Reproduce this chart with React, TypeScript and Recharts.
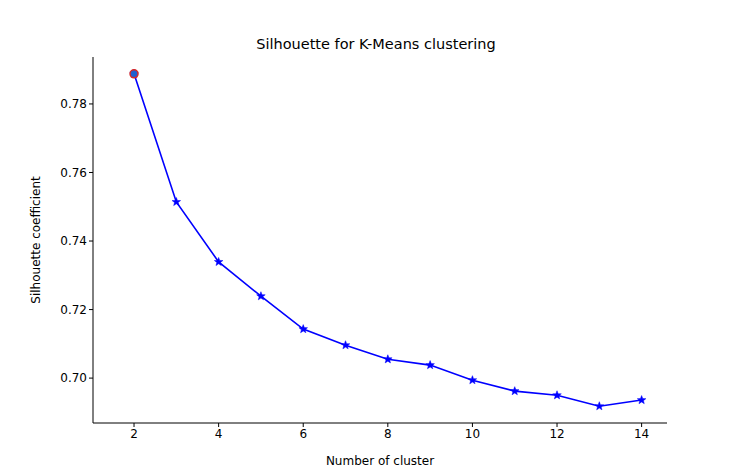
import React from "react";
import { LineChart, Line, XAxis, YAxis } from "recharts";

const clusters = [2, 3, 4, 5, 6, 7, 8, 9, 10, 11, 12, 13, 14];
const silhouette = [0.7888, 0.7514, 0.7339, 0.7239, 0.7143, 0.7096, 0.7055, 0.7038, 0.6994, 0.6962, 0.695, 0.6918, 0.6936];
const xTicks = [2, 4, 6, 8, 10, 12, 14];
const yTicks = [0.7, 0.72, 0.74, 0.76, 0.78];

const data = clusters.map((k, i) => ({ k, s: silhouette[i] }));

const font = "DejaVu Sans";
const xDomain: [number, number] = [1.03, 14.6];
const yDomain: [number, number] = [0.6869, 0.7937];

const Star = (props: any) => {
  const { cx, cy, index } = props;
  if (cx == null || cy == null) return null;
  const pts: string[] = [];
  for (let i = 0; i < 10; i++) {
    const r = i % 2 === 0 ? 4.5 : 1.9;
    const a = -Math.PI / 2 + (i * Math.PI) / 5;
    pts.push(`${cx + r * Math.cos(a)},${cy + r * Math.sin(a)}`);
  }
  return (
    <g key={index}>
      <polygon points={pts.join(" ")} fill="#0000ff" stroke="#0000ff" strokeWidth={0.5} />
      {index === 0 && <circle cx={cx} cy={cy} r={4} fill="#1f5fd0" stroke="#d62728" strokeWidth={1.5} />}
    </g>
  );
};

export default function App() {
  return (
    <div style={{ position: "absolute", left: 0, top: 0, background: "#fff" }}>
      <LineChart width={733} height={475} data={data} margin={{ top: 57, right: 66, bottom: 0, left: 0 }}>
        <text x={376} y={49} textAnchor="middle" fontFamily={font} fontSize={14.5}>
          Silhouette for K-Means clustering
        </text>
        <XAxis
          dataKey="k"
          type="number"
          domain={xDomain}
          ticks={xTicks}
          stroke="#000"
          tick={{ fill: "#000", fontFamily: font, fontSize: 12 }}
          tickSize={4}
          label={{ value: "Number of cluster", position: "insideBottom", offset: 10, fill: "#000", fontFamily: font, fontSize: 12 }}
          height={52}
        />
        <XAxis xAxisId="top" orientation="top" dataKey="k" type="number" domain={xDomain} stroke="#000" tick={false} tickLine={false} height={0} />
        <YAxis
          type="number"
          domain={yDomain}
          ticks={yTicks}
          tickFormatter={(v: number) => v.toFixed(2)}
          stroke="#000"
          tick={{ fill: "#000", fontFamily: font, fontSize: 12 }}
          tickSize={4}
          width={93}
          label={{ value: "Silhouette coefficient", angle: -90, position: "insideLeft", offset: 36, fill: "#000", fontFamily: font, fontSize: 12, style: { textAnchor: "middle" } }}
        />
        <YAxis yAxisId="right" orientation="right" type="number" domain={yDomain} stroke="#000" tick={false} tickLine={false} width={0} />
        <Line dataKey="s" stroke="#0000ff" strokeWidth={1.6} dot={<Star />} activeDot={false} isAnimationActive={false} />
      </LineChart>
    </div>
  );
}
